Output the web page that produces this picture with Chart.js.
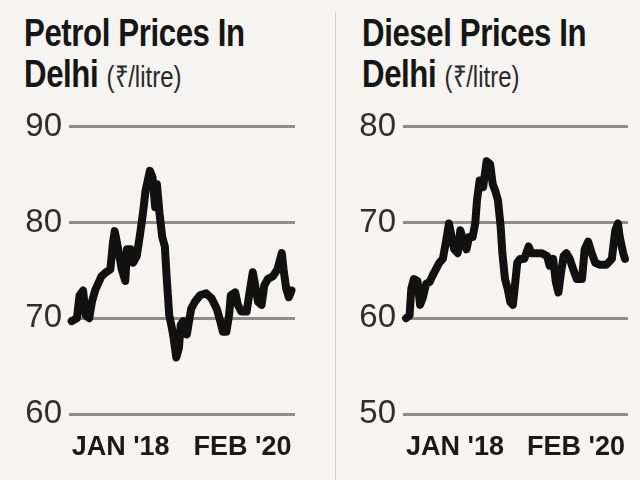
<!DOCTYPE html>
<html>
<head>
<meta charset="utf-8">
<script src="https://cdn.jsdelivr.net/npm/chart.js@4.4.0/dist/chart.umd.min.js"></script>
<style>
  html, body { margin: 0; padding: 0; }
  body {
    width: 640px; height: 480px; position: relative; overflow: hidden;
    background: #f5f4f0;
    font-family: "Liberation Sans", Arial, sans-serif;
    color: #161616;
  }
  .title {
    position: absolute; top: 12px; white-space: nowrap;
    font-weight: bold; font-size: 39px; line-height: 41px; letter-spacing: -0.5px;
    transform: scaleX(0.8); transform-origin: 0 0;
  }
  .title .unit { font-weight: normal; font-size: 30px; letter-spacing: 0; color: #2a2a2a; }
  .divider { position: absolute; left: 335px; top: 12px; width: 1px; height: 468px; background: #cfcdc9; }
  canvas { position: absolute; top: 100px; }
</style>
</head>
<body>
<div class="title" style="left:24px">Petrol Prices In<br>Delhi <span class="unit">(₹/litre)</span></div>
<div class="title" style="left:362px">Diesel Prices In<br>Delhi <span class="unit">(₹/litre)</span></div>
<div class="divider"></div>
<canvas id="petrolChart" width="320" height="375" style="left:0px"></canvas>
<canvas id="dieselChart" width="320" height="375" style="left:320px"></canvas>
<script>
// months since Jan 2018
const petrolMonths = [0, 0.6, 0.9, 1.3, 1.6, 2.0, 2.3, 2.7, 3.0, 3.4, 3.9, 4.4, 4.7, 4.9, 5.3, 5.7, 6.1, 6.3, 6.7, 7.0,
  7.4, 7.8, 8.1, 8.4, 8.9, 9.2, 9.5, 9.7, 10.0, 10.3, 10.6, 10.8, 11.1, 11.4, 11.6, 11.9, 12.2, 12.4, 12.7, 13.1,
  13.4, 13.6, 14.0, 14.6, 15.3, 15.9, 16.5, 16.9, 17.2, 17.6, 17.9, 18.1, 18.6, 18.9, 19.3, 19.9, 20.3, 20.6, 20.8,
  21.2, 21.6, 21.9, 22.3, 22.9, 23.4, 23.9, 24.1, 24.4, 24.7, 25.0];
const petrolPrices = [69.7, 70, 72.4, 72.9, 70.3, 70, 71.7, 73, 73.6, 74.4, 74.8, 75.1, 77.9, 79.1, 77.2, 75.1, 73.9, 77.2, 77.2, 75.8,
  76.5, 78.9, 80.9, 83.3, 85.4, 84.7, 81.6, 84, 80.9, 78.5, 77.5, 74.4, 70.3, 69, 67.9, 65.9, 66.9, 69.3, 69.7, 68.3,
  70, 71, 71.7, 72.4, 72.6, 72.1, 71, 69.7, 68.6, 68.6, 70.3, 72.4, 72.7, 71.4, 70.7, 70.7, 73.1, 74.8, 73.8,
  71.7, 71.4, 73.4, 74.1, 74.4, 75.1, 76.8, 75.1, 73.1, 72.2, 72.9];

const dieselMonths = [0, 0.4, 0.6, 0.9, 1.3, 1.6, 1.9, 2.3, 2.7, 3.0, 3.4, 3.8, 4.2, 4.6, 4.9, 5.2, 5.5, 5.9, 6.2, 6.5,
  6.9, 7.2, 7.6, 7.9, 8.1, 8.4, 8.8, 9.2, 9.6, 9.9, 10.2, 10.5, 10.8, 11.0, 11.3, 11.6, 11.9, 12.2, 12.4, 12.7,
  13.0, 13.5, 14.0, 14.3, 14.9, 15.5, 16.1, 16.4, 16.8, 17.1, 17.4, 17.7, 18.0, 18.3, 18.7, 19.1, 19.5, 20.1, 20.4,
  20.8, 21.2, 21.6, 22.1, 22.9, 23.5, 23.9, 24.2, 24.4, 24.8, 25.0];
const dieselPrices = [60, 60.3, 63.1, 64.1, 63.9, 61.4, 62.1, 63.6, 63.8, 64.4, 65.1, 65.8, 66.2, 68.2, 69.9, 68.5, 67.2, 66.8, 69.2, 68.2,
  67.2, 68.5, 68.5, 69.9, 72.3, 74.4, 73.7, 76.4, 76.1, 74.0, 73.3, 72.3, 69.6, 66.8, 64.1, 63.1, 61.7, 61.4, 63.1, 65.8,
  66.2, 66.2, 67.5, 66.8, 66.8, 66.8, 66.5, 65.5, 66.2, 63.8, 62.7, 64.8, 66.5, 66.8, 66.2, 65.1, 64.1, 64.1, 67.2,
  68.0, 66.8, 65.8, 65.6, 65.6, 66.2, 69.2, 69.9, 68.5, 66.8, 66.2];

const petrolTicks = [60, 70, 80, 90];
const dieselTicks = [50, 60, 70, 80];
const xTickMonths = [0, 25];
const xTickLabels = ["JAN '18", "FEB '20"];

const FONT = "'Liberation Sans', Arial, sans-serif";

function makeChart(id, months, prices, yTicks, pad, xMin, xMax) {
  const ctx = document.getElementById(id).getContext('2d');
  return new Chart(ctx, {
    type: 'line',
    data: {
      datasets: [{
        data: months.map((m, i) => ({ x: m, y: prices[i] })),
        borderColor: '#111111',
        borderWidth: 8,
        borderJoinStyle: 'round',
        borderCapStyle: 'round',
        pointRadius: 0,
        tension: 0,
        clip: false
      }]
    },
    options: {
      responsive: false,
      animation: false,
      layout: { padding: pad },
      plugins: { legend: { display: false }, tooltip: { enabled: false } },
      scales: {
        x: {
          type: 'linear',
          min: xMin,
          max: xMax,
          grid: { display: false },
          border: { display: false },
          afterBuildTicks: s => { s.ticks = xTickMonths.map(v => ({ value: v })); },
          afterFit: s => { s.height = 50; },
          ticks: {
            align: 'inner',
            maxRotation: 0,
            autoSkip: false,
            padding: 9,
            color: '#1a1a1a',
            font: { family: FONT, size: 27, weight: 'bold' },
            callback: (v) => xTickLabels[xTickMonths.indexOf(v)]
          }
        },
        y: {
          min: yTicks[0],
          max: yTicks[yTicks.length - 1],
          afterBuildTicks: s => { s.ticks = yTicks.map(v => ({ value: v })); },
          afterFit: s => { s.width = 49; },
          grid: { color: '#8e8d8a', lineWidth: 3, drawTicks: false },
          border: { display: false },
          ticks: {
            padding: 7,
            color: '#2e2e2e',
            font: { family: FONT, size: 33 }
          }
        }
      }
    }
  });
}

makeChart('petrolChart', petrolMonths, petrolPrices, petrolTicks,
  { left: 20, right: 25, top: 22, bottom: 11 }, -0.3, 25.4);
makeChart('dieselChart', dieselMonths, dieselPrices, dieselTicks,
  { left: 34, right: 12, top: 22, bottom: 11 }, -0.35, 25.35);
</script>
</body>
</html>
